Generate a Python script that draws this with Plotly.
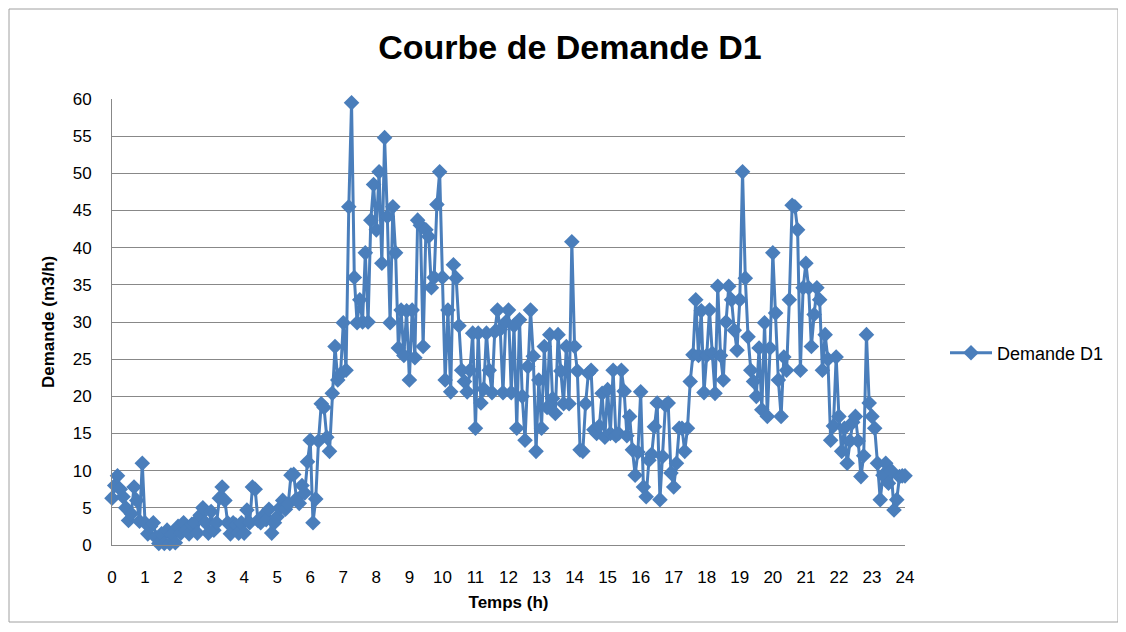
import plotly.graph_objects as go

# Demand values every 5 minutes, hour by hour (m3/h)
h00 = [6.3, 8.0, 9.3, 7.5, 6.5, 5.0, 3.3, 4.2, 7.8, 6.0, 3.2, 11.0]
h01 = [3.0, 1.5, 2.5, 3.0, 1.0, 0.2, 1.5, 0.2, 2.0, 0.2, 1.5, 0.3]
h02 = [2.5, 1.6, 3.0, 2.0, 1.5, 2.8, 3.0, 1.6, 4.0, 5.0, 3.0, 1.6]
h03 = [4.5, 2.0, 3.0, 6.3, 7.8, 6.0, 3.0, 1.5, 3.0, 2.7, 1.6, 3.0]
h04 = [1.6, 4.7, 3.0, 7.8, 7.5, 3.3, 3.0, 4.0, 3.4, 4.8, 1.6, 3.0]
h05 = [3.8, 5.0, 6.0, 4.8, 5.5, 9.4, 9.5, 6.2, 5.6, 8.0, 7.0, 11.2]
h06 = [14.1, 3.0, 6.2, 14.0, 19.0, 18.5, 14.5, 12.6, 20.4, 26.7, 22.2, 23.0]
h07 = [29.9, 23.5, 45.5, 59.5, 36.0, 29.9, 33.0, 30.0, 39.3, 30.0, 43.7, 48.5]
h08 = [42.4, 50.2, 37.9, 54.8, 44.2, 29.9, 45.5, 39.3, 26.5, 31.6, 25.5, 31.5]
h09 = [22.2, 31.6, 25.2, 43.7, 43.0, 26.7, 42.4, 41.5, 34.6, 36.0, 45.8, 50.2]
h10 = [36.0, 22.2, 31.6, 20.6, 37.7, 35.9, 29.5, 23.5, 22.0, 20.6, 23.5, 28.5]
h11 = [15.7, 28.5, 19.1, 21.0, 28.5, 23.5, 20.5, 28.7, 31.6, 29.0, 20.5, 30.0]
h12 = [31.6, 20.5, 29.5, 15.7, 30.3, 20.0, 14.1, 24.0, 31.6, 25.4, 12.6, 22.2]
h13 = [15.7, 26.7, 18.5, 28.3, 19.7, 17.7, 28.3, 23.4, 19.0, 26.7, 19.0, 40.8]
h14 = [26.7, 23.4, 12.8, 12.6, 19.0, 23.1, 23.5, 15.5, 15.0, 16.0, 20.4, 14.5]
h15 = [20.9, 15.0, 23.5, 14.7, 15.0, 23.5, 20.7, 14.7, 17.3, 12.8, 9.4, 12.5]
h16 = [20.6, 7.8, 6.5, 11.4, 12.2, 15.9, 19.1, 6.1, 11.9, 18.8, 19.1, 9.7]
h17 = [7.8, 11.0, 15.7, 15.7, 12.6, 15.7, 22.0, 25.6, 33.0, 25.5, 31.5, 20.5]
h18 = [25.5, 31.6, 25.8, 20.4, 34.8, 25.5, 22.2, 30.0, 34.8, 33.0, 28.9, 26.2]
h19 = [33.0, 50.2, 35.9, 28.0, 23.5, 22.0, 20.0, 26.5, 18.2, 29.9, 17.3, 26.5]
h20 = [39.3, 31.2, 22.2, 17.3, 25.3, 23.5, 33.0, 45.7, 45.5, 42.4, 23.5, 34.6]
h21 = [37.9, 34.6, 26.7, 31.0, 34.6, 33.0, 23.5, 28.3, 25.0, 14.1, 16.0, 25.3]
h22 = [17.3, 12.6, 15.7, 11.0, 14.0, 16.5, 17.3, 14.0, 9.2, 12.0, 28.3, 19.1]
h23 = [17.3, 15.7, 11.0, 6.1, 9.4, 11.0, 8.3, 10.0, 4.7, 6.1, 9.2, 9.3]
h24 = [9.3]

demand = (h00 + h01 + h02 + h03 + h04 + h05 + h06 + h07 + h08 + h09 + h10 + h11
          + h12 + h13 + h14 + h15 + h16 + h17 + h18 + h19 + h20 + h21 + h22 + h23 + h24)
step_minutes = 5
temps = [i * step_minutes / 60 for i in range(len(demand))]

x_ticks = list(range(0, 25))
y_ticks = list(range(0, 61, 5))

BLUE = "#4A7EBB"
GRID = "#888888"
FONT = "Liberation Sans"

# page body has an 8px margin, so the figure is 8px smaller than the window
W, H = 1118, 624
L, T, R, B = 104, 91, 221, 87
PW, PH = W - L - R, H - T - B

fig = go.Figure()
fig.add_trace(go.Scatter(
    x=temps, y=demand, mode="lines+markers", name="Demande D1",
    line=dict(color=BLUE, width=3),
    marker=dict(symbol="diamond", size=12, color=BLUE),
    cliponaxis=False,
))

fig.update_layout(
    width=W, height=H,
    paper_bgcolor="white", plot_bgcolor="white",
    margin=dict(l=L, r=R, t=T, b=B),
    font=dict(family=FONT, color="#000000", size=16),
    title=dict(text="<b>Courbe de Demande D1</b>", x=(570 - 8) / W, xref="container",
               y=1 - (47 - 8) / H, yref="container", xanchor="center", yanchor="middle",
               font=dict(family=FONT, size=34, color="#000000")),
    showlegend=True,
    legend=dict(x=(945 - 8 - L) / PW, y=(545 - 353) / PH, xanchor="left", yanchor="middle",
                font=dict(family=FONT, size=18, color="#000000"),
                itemwidth=42, bgcolor="rgba(0,0,0,0)"),
    xaxis=dict(range=[0, 24], tickmode="array", tickvals=x_ticks,
               ticktext=[str(v) for v in x_ticks], showgrid=False, zeroline=False,
               showline=True, linecolor=GRID, linewidth=1,
               ticks="outside", ticklen=17, tickcolor="rgba(0,0,0,0)",
               tickfont=dict(size=17),
               title=dict(text="<b>Temps (h)</b>", font=dict(size=17), standoff=9)),
    yaxis=dict(range=[0, 60], tickmode="array", tickvals=y_ticks,
               ticktext=[str(v) for v in y_ticks], showgrid=True, gridcolor=GRID,
               gridwidth=1, zeroline=False, showline=True, linecolor=GRID, linewidth=1,
               ticks="outside", ticklen=16, tickcolor="rgba(0,0,0,0)",
               tickfont=dict(size=17)),
    annotations=[dict(text="<b>Demande (m3/h)</b>", xref="paper", yref="paper",
                      x=(48 - 8 - L) / PW, y=(537 - (322 - 8)) / PH,
                      xanchor="center", yanchor="middle", textangle=-90,
                      showarrow=False, font=dict(family=FONT, size=17, color="#000000"))],
    shapes=[dict(type="rect", xref="paper", yref="paper",
                 x0=(1 - L) / PW, x1=(1110 - L) / PW,
                 y0=(537 - 614) / PH, y1=(537 - 1) / PH,
                 line=dict(color="#A0A0A0", width=1), fillcolor="rgba(0,0,0,0)",
                 layer="below")],
)

fig.write_html("out.html")
